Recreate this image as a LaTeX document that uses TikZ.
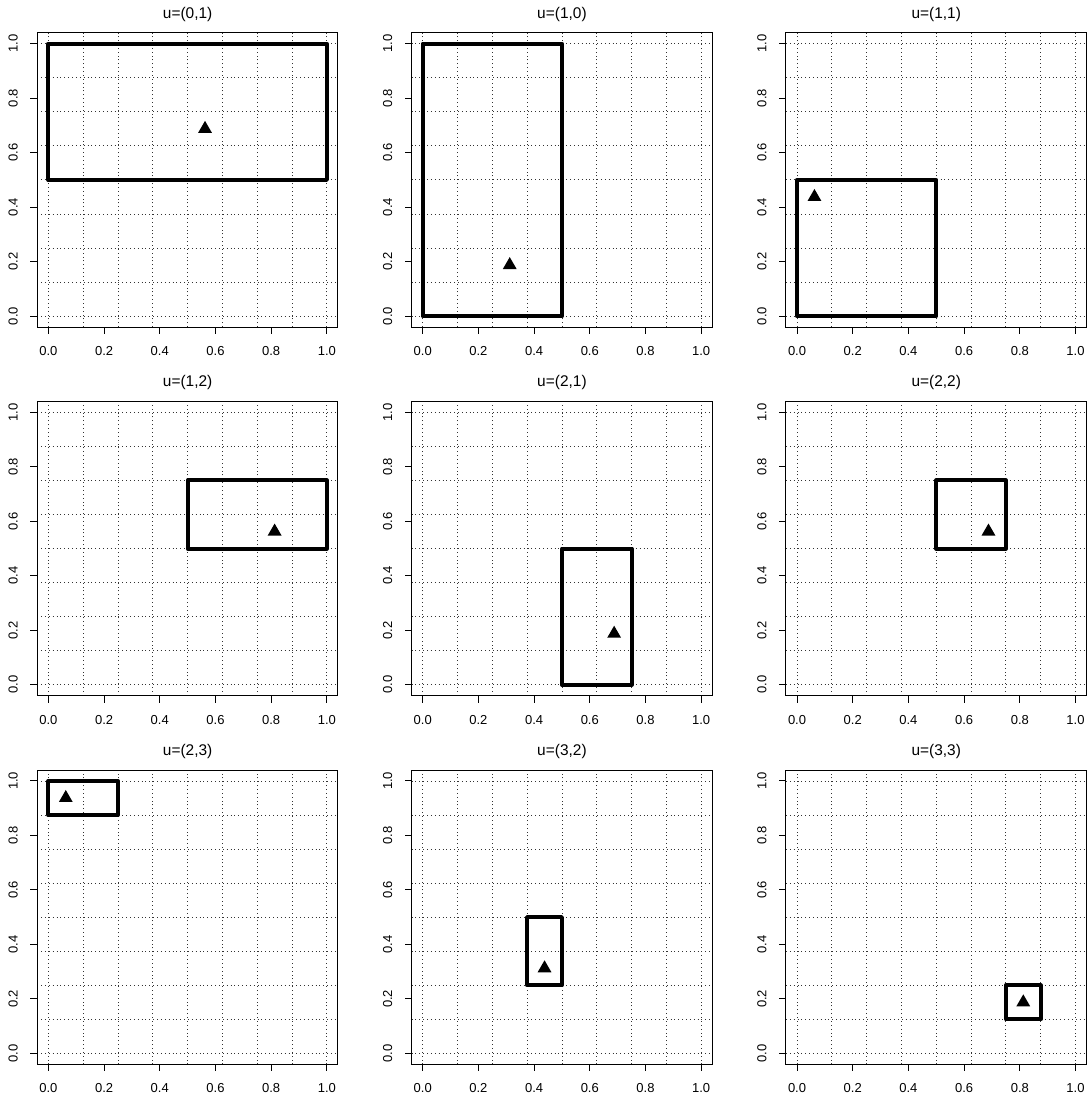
\documentclass[tikz,border=0pt]{standalone}
\usepackage{fontspec}
\setmainfont{Liberation Sans}
\usetikzlibrary{shapes.geometric}

\begin{document}
\begin{tikzpicture}[
    x=0.02cm, y=0.02cm,
    frame/.style={line width=0.57pt},
    gridline/.style={black!80, line width=0.5pt, dash pattern=on 0.5pt off 1.7pt},
    cellbox/.style={line width=2.3pt, line join=round},
    pt/.style={regular polygon, regular polygon sides=3, fill=black, inner sep=0pt, minimum size=0.32cm},
    ticklbl/.style={font=\fontsize{7.4}{9}\selectfont, inner sep=0pt},
    paneltitle/.style={font=\fontsize{8.8}{10}\selectfont, inner sep=0pt},
]

\useasboundingbox (0,0) rectangle (1087,1099);

% one panel per entry: column/row/title/box x0/x1/y0/y1/point x/y
\foreach \c/\r/\lab/\xa/\xb/\ya/\yb/\px/\py in {
    0/0/{u=(0,1)}/0/1/0.5/1/0.5625/0.6875,
    1/0/{u=(1,0)}/0/0.5/0/1/0.3125/0.1875,
    2/0/{u=(1,1)}/0/0.5/0/0.5/0.0625/0.4375,
    0/1/{u=(1,2)}/0.5/1/0.5/0.75/0.8125/0.5625,
    1/1/{u=(2,1)}/0.5/0.75/0/0.5/0.6875/0.1875,
    2/1/{u=(2,2)}/0.5/0.75/0.5/0.75/0.6875/0.5625,
    0/2/{u=(2,3)}/0/0.25/0.875/1/0.0625/0.9375,
    1/2/{u=(3,2)}/0.375/0.5/0.25/0.5/0.4375/0.3125,
    2/2/{u=(3,3)}/0.75/0.875/0.125/0.25/0.8125/0.1875}{
  \pgfmathsetmacro\ox{0.968+7.488*\c}
  \pgfmathsetmacro\oy{15.66-7.374*\r}
  \begin{scope}[xshift=\ox cm, yshift=\oy cm, x=5.57cm, y=5.45cm]
    % dotted grid
    \foreach \g in {0,0.125,...,1} {
      \draw[gridline] (\g,-0.04) -- (\g,1.04);
      \draw[gridline] (-0.04,\g) -- (1.04,\g);
    }
    \draw[frame] (-0.04,-0.04) rectangle (1.04,1.04);
    % axes
    \foreach \t/\tl in {0/0.0,0.2/0.2,0.4/0.4,0.6/0.6,0.8/0.8,1/1.0} {
      \draw[frame] (\t,-0.04) -- ++(0,-0.14cm);
      \draw[frame] (-0.04,\t) -- ++(-0.14cm,0);
      \node[ticklbl, yshift=-0.48cm] (xl\c\r\tl) at (\t,-0.04) {\tl};
      \node[ticklbl, xshift=-0.48cm, rotate=90] (yl\c\r\tl) at (-0.04,\t) {\tl};
    }
    \node[paneltitle, yshift=0.372cm] (ttl\c\r) at (0.5,1.04) {\lab};
    % box and point
    \draw[cellbox] (\xa,\ya) rectangle (\xb,\yb);
    \node[pt] (p\c\r) at (\px,\py) {};
  \end{scope}
}

\end{tikzpicture}
\end{document}
